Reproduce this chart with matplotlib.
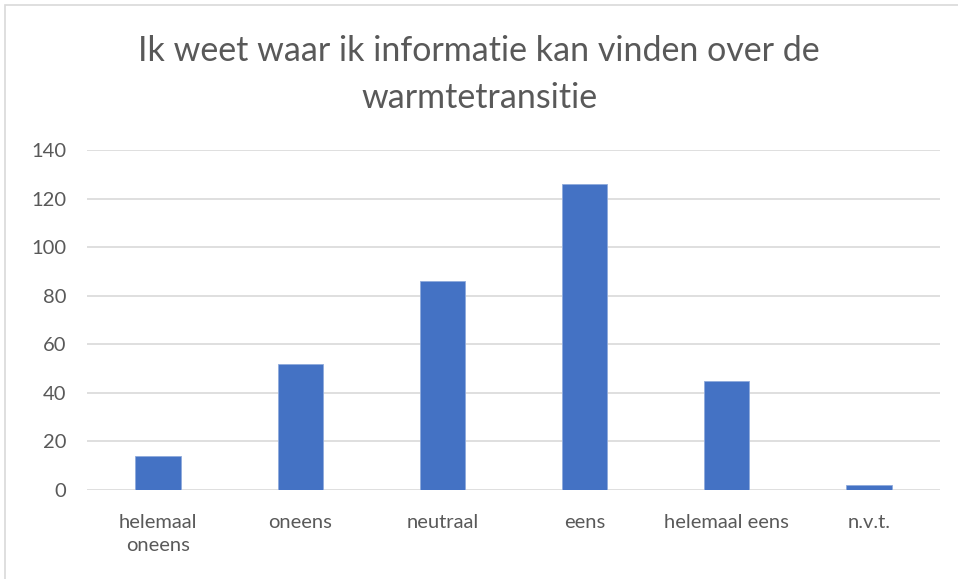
import matplotlib.pyplot as plt
from matplotlib.patches import Rectangle

# antwoordcategorieen en aantallen
categorieen = ["helemaal\noneens", "oneens", "neutraal", "eens", "helemaal eens", "n.v.t."]
aantallen = [14, 52, 86, 126, 45, 2]
y_ticks = [0, 20, 40, 60, 80, 100, 120, 140]

plt.rcParams['font.family'] = ['Lato', 'DejaVu Sans']
tekstkleur = '#595959'

fig = plt.figure(figsize=(9.58, 5.79), dpi=100)
ax = fig.add_axes([87 / 958, 89 / 579, 853 / 958, 340 / 579])

ax.bar(range(len(categorieen)), aantallen, width=0.32, color='#4472C4',
       edgecolor='#8faadc', linewidth=0.6, zorder=3)

ax.set_xlim(-0.5, len(categorieen) - 0.5)
ax.set_ylim(0, 140)
ax.set_yticks(y_ticks)
ax.set_xticks(range(len(categorieen)))
ax.set_xticklabels(categorieen, linespacing=1.45)
ax.grid(axis='y', color='#d9d9d9', linewidth=1.2, zorder=0)
for s in ax.spines.values():
    s.set_visible(False)
ax.tick_params(length=0, labelsize=14.5, colors=tekstkleur)
ax.tick_params(axis='y', pad=15)
ax.tick_params(axis='x', pad=17)

fig.text(0.5, 0.871, "Ik weet waar ik informatie kan vinden over de\nwarmtetransitie",
         ha='center', va='center', fontsize=24.5, color=tekstkleur,
         linespacing=1.6)

# lichte kader rond de grafiek
fig.patches.append(Rectangle((5 / 958, -0.01), 1.0, 1.0 - 5 / 579 + 0.01,
                             transform=fig.transFigure, fill=False,
                             edgecolor='#d9d9d9', linewidth=1.2))

fig.savefig('out.png', dpi=100)
